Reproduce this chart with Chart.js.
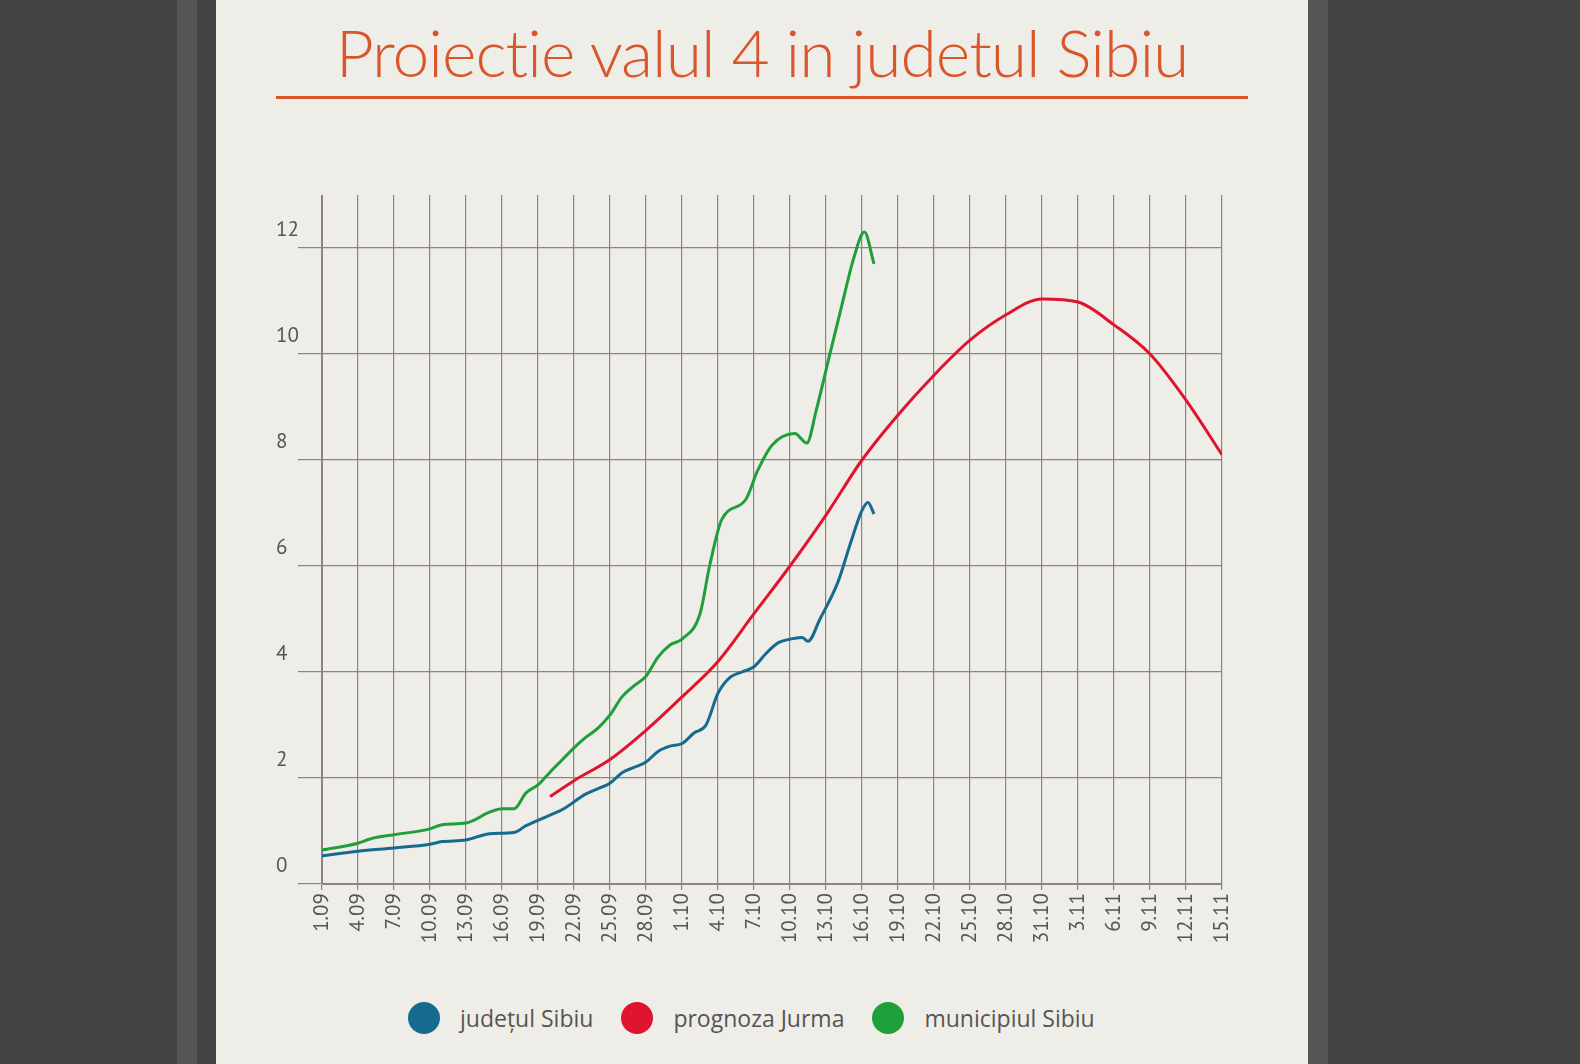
<!DOCTYPE html>
<html>
<head>
<meta charset="utf-8">
<script src="https://cdn.jsdelivr.net/npm/chart.js@4.4.0/dist/chart.umd.min.js"></script>
<style>
  html, body { margin: 0; padding: 0; }
  body { width: 1580px; height: 1064px; background: #444444; position: relative; overflow: hidden; font-family: 'PT Sans', 'Open Sans', sans-serif; }
  .stripe { position: absolute; top: 0; height: 1064px; width: 20px; background: #555555; }
  .panel { position: absolute; left: 216px; top: 0; width: 1092px; height: 1064px; background: #efede8; }
  h1 { position: absolute; left: 216px; width: 1092px; top: 12px; margin: 0; text-align: center; font-family: Lato, sans-serif; font-weight: 300; font-size: 66px; color: #d9562a; letter-spacing: -1px; }
  .rule { position: absolute; left: 276px; top: 96px; width: 972px; height: 3px; background: #d9562a; }
  .wrap { position: absolute; left: 256px; top: 180px; width: 1000px; height: 800px; }
  .legend { position: absolute; top: 1002px; left: 408px; display: flex; align-items: center; font-family: 'Open Sans', sans-serif; font-size: 23px; color: #555; }
  .legend span.dot { width: 32px; height: 32px; border-radius: 50%; display: inline-block; margin-right: 20px; }
  .legend .item { display: flex; align-items: center; margin-right: 28px; }
</style>
</head>
<body>
<div class="stripe" style="left:177px"></div>
<div class="stripe" style="left:1308px"></div>
<div class="panel"></div>
<h1>Proiectie valul 4 in judetul Sibiu</h1>
<div class="rule"></div>
<div class="wrap"><canvas id="c"></canvas></div>
<div class="legend">
  <div class="item"><span class="dot" style="background:#166a8f"></span>județul Sibiu</div>
  <div class="item"><span class="dot" style="background:#e0142f"></span>prognoza Jurma</div>
  <div class="item"><span class="dot" style="background:#1f9f3a"></span>municipiul Sibiu</div>
</div>
<script>
// day index 0 = 1.09, 75 = 15.11
const judetDays = [0, 3, 6, 9, 10, 12, 14, 16, 17, 19, 20, 22, 23, 24, 25, 26, 27, 28, 29, 30, 31, 32, 33, 34, 35, 36, 37, 38, 39, 40, 40.5, 41.5, 43, 44, 45, 45.5, 46];
const judetVals = [0.53, 0.62, 0.68, 0.75, 0.8, 0.83, 0.95, 0.97, 1.1, 1.3, 1.4, 1.7, 1.8, 1.9, 2.1, 2.2, 2.3, 2.5, 2.6, 2.65, 2.85, 3.0, 3.6, 3.9, 4.0, 4.1, 4.35, 4.55, 4.62, 4.65, 4.58, 5.0, 5.7, 6.4, 7.05, 7.2, 6.98];

const jurmaDays = [19, 21, 24, 27, 30, 33, 36, 39, 42, 45, 48, 51, 54, 57, 60, 63, 66, 69, 72, 75];
const jurmaVals = [1.65, 1.95, 2.35, 2.9, 3.53, 4.2, 5.1, 6.0, 6.96, 8.0, 8.85, 9.6, 10.26, 10.74, 11.04, 10.98, 10.55, 10.0, 9.13, 8.1];

const municipiuDays = [0, 3, 4, 6, 9, 10, 12, 14, 15, 16, 17, 18, 19, 20, 21, 22, 23, 24, 25, 26, 27, 28, 29, 30, 31.5, 32.3, 33.3, 35.3, 36.3, 37.5, 39.4, 40.4, 41.2, 42.3, 43.3, 44.3, 45.2, 46];
const municipiuVals = [0.64, 0.77, 0.85, 0.93, 1.04, 1.12, 1.15, 1.36, 1.42, 1.42, 1.72, 1.87, 2.11, 2.34, 2.57, 2.77, 2.94, 3.19, 3.53, 3.74, 3.92, 4.28, 4.51, 4.62, 5.1, 6.0, 6.87, 7.25, 7.8, 8.28, 8.5, 8.32, 8.95, 9.98, 10.9, 11.8, 12.3, 11.7];

const yTicks = [0, 2, 4, 6, 8, 10, 12];

function dayLabel(d) {
  if (d < 30) return (d + 1) + '.09';
  if (d < 61) return (d - 29) + '.10';
  return (d - 60) + '.11';
}
const pts = (xs, ys) => xs.map((x, i) => ({ x: x, y: ys[i] }));

const gridColor = '#8a8580';
const tickFont = { family: "'PT Sans', 'Open Sans', sans-serif", size: 21 };

new Chart(document.getElementById('c'), {
  type: 'line',
  data: {
    datasets: [
      { label: 'județul Sibiu', data: pts(judetDays, judetVals), borderColor: '#166a8f' },
      { label: 'prognoza Jurma', data: pts(jurmaDays, jurmaVals), borderColor: '#e0142f' },
      { label: 'municipiul Sibiu', data: pts(municipiuDays, municipiuVals), borderColor: '#1f9f3a' }
    ]
  },
  options: {
    responsive: true,
    maintainAspectRatio: false,
    animation: false,
    elements: { point: { radius: 0 }, line: { borderWidth: 3, tension: 0.4, cubicInterpolationMode: 'monotone' } },
    layout: { padding: { left: 20, top: 15, right: 34, bottom: 0 } },
    plugins: { legend: { display: false }, tooltip: { enabled: false } },
    scales: {
      x: {
        type: 'linear', min: 0, max: 75,
        afterFit: (s) => { s.height = 96; },
        grid: { color: gridColor, lineWidth: 1.2, tickLength: 6 },
        border: { color: gridColor },
        ticks: { stepSize: 3, autoSkip: false, minRotation: 90, maxRotation: 90, color: '#555', font: tickFont, callback: (v) => dayLabel(v) }
      },
      y: {
        min: 0, max: 13,
        afterFit: (s) => { s.width = 46; },
        afterBuildTicks: (s) => { s.ticks = yTicks.map(v => ({ value: v })); },
        grid: { color: gridColor, lineWidth: 1.2, tickLength: 24 },
        border: { color: gridColor },
        ticks: { color: '#555', font: tickFont, crossAlign: 'far', labelOffset: -18, padding: 0 }
      }
    }
  }
});
</script>
</body>
</html>
